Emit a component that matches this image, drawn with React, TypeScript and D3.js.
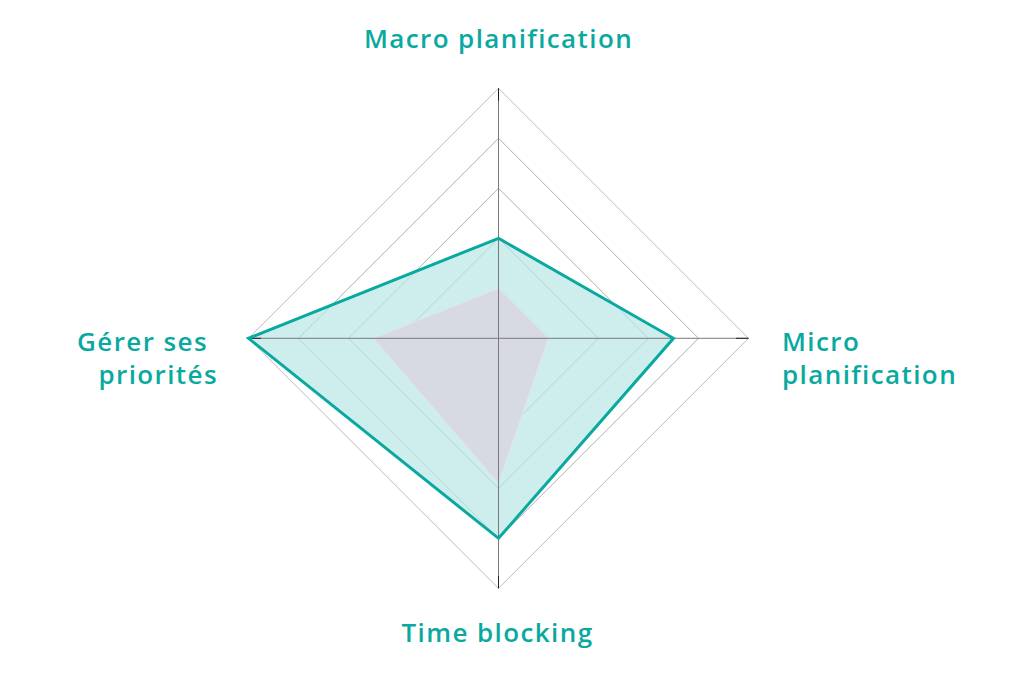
import React from "react";
import * as d3 from "d3";

const axes = ["Macro planification", "Micro planification", "Time blocking", "Gérer ses priorités"];
const seriesTeal = [2, 3.5, 4, 5];
const seriesGray = [1, 1, 2.9, 2.5];
const levels = [1, 2, 3, 4, 5];

const W = 1024;
const H = 683;
const cx = 498.5;
const cy = 338.3;
const R = 250;

const TEAL = "#0aa99f";

export default function App() {
  const r = d3.scaleLinear().domain([0, 5]).range([0, R]);
  const angle = (i: number) => (i * 2 * Math.PI) / axes.length;
  const pt = (i: number, v: number): [number, number] => [
    cx + r(v) * Math.sin(angle(i)),
    cy - r(v) * Math.cos(angle(i)),
  ];
  const line = d3.line<[number, number]>().curve(d3.curveLinearClosed);
  const poly = (vals: number[]) => line(vals.map((v, i) => pt(i, v))) || "";

  const font = "'Open Sans', sans-serif";
  const textStyle = { fontFamily: font, fontWeight: 600, fontSize: 26, fill: TEAL, letterSpacing: 1.4 } as const;

  return (
    <svg width={W} height={H} style={{ position: "absolute", left: 0, top: 0, background: "#fff" }}>
      {levels.map((l) => (
        <path key={l} d={poly(axes.map(() => l))} fill="none" stroke="#b5b5b5" strokeWidth={0.9} />
      ))}
      <path d={poly(seriesTeal)} fill="#c9ecec" fillOpacity={0.9} stroke="none" />
      {levels.slice(0, 4).map((l) => (
        <path key={"o" + l} d={poly(axes.map(() => l))} fill="none" stroke="#9aa" strokeOpacity={0.35} strokeWidth={0.9} />
      ))}
      <path d={poly(seriesGray)} fill="#d8dae3" stroke="#e3e4ea" strokeWidth={1} />
      {axes.map((a, i) => {
        const [x2, y2] = pt(i, 5);
        const [x3, y3] = pt(i, 4.75);
        return (
          <g key={a}>
            <line x1={cx} y1={cy} x2={x2} y2={y2} stroke="#7a7a7a" strokeWidth={1} />
            <line x1={x3} y1={y3} x2={x2} y2={y2} stroke="#222" strokeWidth={1} />
          </g>
        );
      })}
      <path d={poly(seriesTeal)} fill="none" stroke={TEAL} strokeWidth={3} strokeLinejoin="miter" />
      <text x={cx} y={47.5} textAnchor="middle" style={textStyle}>{axes[0]}</text>
      <text x={782} y={351} textAnchor="start" style={textStyle}>Micro</text>
      <text x={782} y={384} textAnchor="start" style={textStyle}>planification</text>
      <text x={cx - 1} y={642} textAnchor="middle" style={textStyle}>{axes[2]}</text>
      <text x={208} y={351} textAnchor="end" style={textStyle}>Gérer ses</text>
      <text x={218} y={384} textAnchor="end" style={textStyle}>priorités</text>
    </svg>
  );
}
